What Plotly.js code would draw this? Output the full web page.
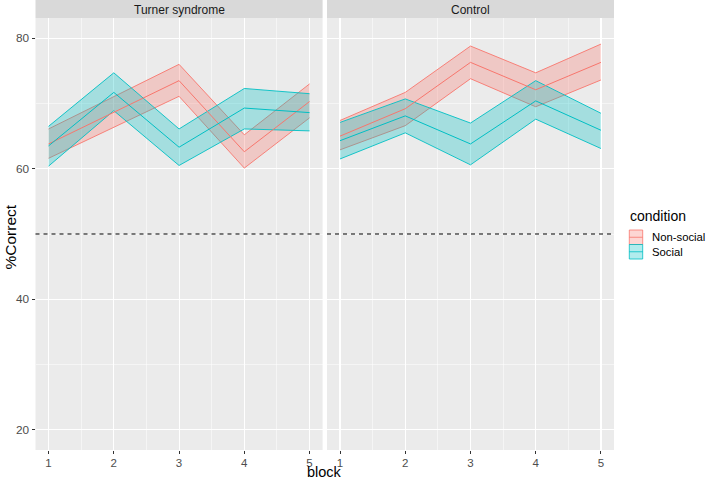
<!DOCTYPE html>
<html>
<head>
<meta charset="utf-8">
<script src="https://cdn.plot.ly/plotly-3.0.1.min.js"></script>
<style>html,body{margin:0;padding:0;background:#fff;}#chart{width:708px;height:481px;}</style>
</head>
<body>
<div id="chart"></div>
<script>
// ---- data ----
var block = [1, 2, 3, 4, 5];
var panels = ["Turner syndrome", "Control"];
var conditions = ["Non-social", "Social"];
var colors = ["#F8766D", "#00BFC4"];
var fills = ["rgba(248,118,109,0.3)", "rgba(0,191,196,0.3)"];

var turnerNonsocialMean  = [63.8, 68.6, 73.5, 62.6, 70.3];
var turnerNonsocialLower = [61.6, 66.3, 71.1, 60.1, 67.8];
var turnerNonsocialUpper = [66.1, 71.1, 76.0, 65.2, 73.0];

var turnerSocialMean  = [63.5, 71.7, 63.3, 69.3, 68.6];
var turnerSocialLower = [60.4, 68.9, 60.5, 66.1, 65.8];
var turnerSocialUpper = [66.5, 74.7, 66.1, 72.3, 71.5];

var controlNonsocialMean  = [65.0, 69.2, 76.3, 72.1, 76.3];
var controlNonsocialLower = [62.9, 66.6, 73.8, 69.5, 73.6];
var controlNonsocialUpper = [67.4, 71.7, 78.8, 74.7, 79.1];

var controlSocialMean  = [64.3, 68.1, 63.8, 70.4, 65.9];
var controlSocialLower = [61.5, 65.5, 60.6, 67.6, 63.1];
var controlSocialUpper = [67.1, 70.7, 67.0, 73.5, 68.5];

var chanceLevel = 50;
var yTicks = [20, 40, 60, 80];

var series = [
  [ {m: turnerNonsocialMean, lo: turnerNonsocialLower, hi: turnerNonsocialUpper},
    {m: turnerSocialMean, lo: turnerSocialLower, hi: turnerSocialUpper} ],
  [ {m: controlNonsocialMean, lo: controlNonsocialLower, hi: controlNonsocialUpper},
    {m: controlSocialMean, lo: controlSocialLower, hi: controlSocialUpper} ]
];

// ---- layout helpers ----
var W = 708, H = 481;
function px(x) { return x / W; }
function py(y) { return 1 - y / H; }
var panelX = [[35.5, 322.6], [327, 614]];
var panelTop = 18, panelBottom = 450;

var traces = [];
for (var p = 0; p < 2; p++) {
  var xa = p === 0 ? "x" : "x2", ya = p === 0 ? "y" : "y2";
  for (var c = 0; c < 2; c++) {
    var s = series[p][c];
    traces.push({x: block, y: s.lo, xaxis: xa, yaxis: ya, type: "scatter", mode: "lines",
      line: {color: colors[c], width: 0.9}, hoverinfo: "skip", showlegend: false});
    traces.push({x: block, y: s.hi, xaxis: xa, yaxis: ya, type: "scatter", mode: "lines",
      fill: "tonexty", fillcolor: fills[c],
      line: {color: colors[c], width: 0.9}, hoverinfo: "skip", showlegend: false});
  }
  for (var c2 = 0; c2 < 2; c2++) {
    traces.push({x: block, y: series[p][c2].m, xaxis: xa, yaxis: ya, type: "scatter", mode: "lines",
      line: {color: colors[c2], width: 1}, name: conditions[c2], showlegend: false});
  }
}

var font = "Liberation Sans, Arial, sans-serif";
function xaxisDef(i) {
  return {
    domain: [px(panelX[i][0]), px(panelX[i][1])],
    range: [0.8, 5.2], tickvals: block, ticktext: block.map(String),
    ticks: "outside", ticklen: 2.5, tickwidth: 1, tickcolor: "#333333",
    tickfont: {family: font, size: 11.5, color: "#4D4D4D"},
    showgrid: true, gridcolor: "#FFFFFF", gridwidth: 1.1,
    minor: {tickvals: [1.5, 2.5, 3.5, 4.5], showgrid: true, gridcolor: "#FFFFFF", gridwidth: 0.5, ticks: ""},
    zeroline: false, showline: false, anchor: i === 0 ? "y" : "y2", fixedrange: true
  };
}
function yaxisDef(i) {
  return {
    domain: [py(panelBottom), py(panelTop)],
    range: [16.9, 83.1], tickvals: yTicks, ticktext: yTicks.map(String),
    ticks: i === 0 ? "outside" : "", ticklen: 3, tickwidth: 1, tickcolor: "#333333",
    showticklabels: i === 0,
    tickfont: {family: font, size: 11.8, color: "#4D4D4D"},
    showgrid: true, gridcolor: "#FFFFFF", gridwidth: 1.1,
    minor: {tickvals: [30, 50, 70], showgrid: true, gridcolor: "#FFFFFF", gridwidth: 0.5, ticks: ""},
    zeroline: false, showline: false, anchor: i === 0 ? "x" : "x2", fixedrange: true
  };
}

var shapes = [], annotations = [];
for (var q = 0; q < 2; q++) {
  // facet strip
  shapes.push({type: "rect", xref: "paper", yref: "paper",
    x0: px(panelX[q][0]), x1: px(panelX[q][1]), y0: py(panelTop), y1: 1,
    fillcolor: "#D9D9D9", line: {width: 0}, layer: "below"});
  annotations.push({xref: "paper", yref: "paper", x: px((panelX[q][0] + panelX[q][1]) / 2), y: py(9.5),
    text: panels[q], showarrow: false, xanchor: "center", yanchor: "middle",
    font: {family: font, size: 12, color: "#1A1A1A"}});
  // chance line
  shapes.push({type: "line", xref: q === 0 ? "x domain" : "x2 domain", yref: q === 0 ? "y" : "y2",
    x0: 0, x1: 1, y0: chanceLevel, y1: chanceLevel,
    line: {color: "#000000", width: 1, dash: "4px,4px"}});
}

// axis titles
annotations.push({xref: "paper", yref: "paper", x: px(324.8), y: 0, text: "block", showarrow: false,
  xanchor: "center", yanchor: "bottom", borderpad: 0, font: {family: font, size: 14.5, color: "#000000"}});
annotations.push({xref: "paper", yref: "paper", x: px(9.5), y: py(237), text: "%Correct", showarrow: false,
  textangle: -90, xanchor: "center", yanchor: "middle", font: {family: font, size: 15.5, color: "#000000"}});

// legend
annotations.push({xref: "paper", yref: "paper", x: px(627.5), y: py(215.5), text: "condition", showarrow: false,
  xanchor: "left", yanchor: "middle", font: {family: font, size: 14, color: "#000000"}});
var keyTop = [230, 244.5];
for (var k = 0; k < 2; k++) {
  var t0 = keyTop[k], t1 = keyTop[k] + 14.5;
  shapes.push({type: "rect", xref: "paper", yref: "paper", x0: px(629.3), x1: px(642.7), y0: py(t1), y1: py(t0),
    fillcolor: fills[k], line: {color: colors[k], width: 0.8}});
  shapes.push({type: "line", xref: "paper", yref: "paper", x0: px(629.3), x1: px(642.7),
    y0: py((t0 + t1) / 2), y1: py((t0 + t1) / 2), line: {color: colors[k], width: 0.8}});
  annotations.push({xref: "paper", yref: "paper", x: px(649.5), y: py((t0 + t1) / 2), text: conditions[k],
    showarrow: false, xanchor: "left", yanchor: "middle", font: {family: font, size: 11.3, color: "#000000"}});
}

var layout = {
  width: W, height: H,
  margin: {l: 0, r: 0, t: 0, b: 0},
  paper_bgcolor: "#FFFFFF", plot_bgcolor: "#EBEBEB",
  showlegend: false,
  xaxis: xaxisDef(0), xaxis2: xaxisDef(1),
  yaxis: yaxisDef(0), yaxis2: yaxisDef(1),
  shapes: shapes, annotations: annotations
};

Plotly.newPlot("chart", traces, layout, {staticPlot: true, displayModeBar: false});
</script>
</body>
</html>
